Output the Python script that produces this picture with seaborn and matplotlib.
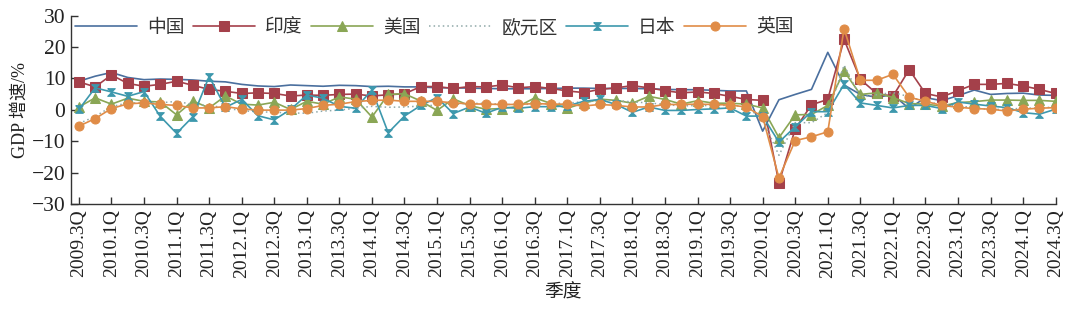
import numpy as np
import pandas as pd
import matplotlib
matplotlib.use("Agg")
import matplotlib.pyplot as plt
import seaborn as sns

# Quarterly GDP growth (%), 2009.3Q - 2024.3Q
quarters = [f"{y}.{q}Q" for y in range(2009, 2025) for q in range(1, 5)][2:63]

china = [9.1, 10.7, 11.9, 10.3, 9.6, 9.8, 9.7, 9.5, 9.1, 8.9,
         8.1, 7.6, 7.4, 7.9, 7.7, 7.5, 7.8, 7.7, 7.4, 7.5,
         7.3, 7.3, 7.0, 7.0, 6.9, 6.8, 6.7, 6.7, 6.7, 6.8,
         6.9, 6.9, 6.8, 6.8, 6.8, 6.7, 6.5, 6.4, 6.4, 6.2,
         6.0, 6.0, -6.8, 3.2, 4.9, 6.5, 18.3, 7.9, 4.9, 4.0,
         4.8, 0.4, 3.9, 2.9, 4.5, 6.3, 4.9, 5.2, 5.3, 4.7, 4.6]

india = [8.9, 7.3, 11.1, 8.4, 7.5, 8.1, 9.1, 7.8, 6.5, 5.9,
         5.2, 5.4, 5.2, 4.4, 4.7, 4.6, 4.9, 5.0, 4.4, 4.8,
         5.1, 7.4, 7.4, 6.8, 7.4, 7.3, 7.9, 7.0, 7.4, 6.8,
         6.0, 5.5, 6.5, 7.0, 7.7, 7.0, 6.1, 5.4, 5.7, 5.2,
         4.3, 3.3, 3.0, -23.3, -6.1, 1.6, 3.3, 22.4, 9.7, 5.2,
         4.3, 12.8, 5.2, 4.1, 6.1, 8.1, 8.1, 8.4, 7.6, 6.5, 5.2]

usa = [0.9, 3.8, 1.8, 3.7, 2.7, 2.5, -1.6, 2.8, 0.6, 4.4,
       1.8, 1.5, 2.4, 0.1, 2.7, 1.8, 4.1, 3.4, -2.3, 4.9,
       5.1, 2.8, -0.2, 3.5, 1.3, 0.2, 0.4, 1.1, 3.8, 2.0,
       0.5, 2.1, 3.4, 3.0, 2.1, 4.3, 3.3, 1.8, 2.9, 2.1,
       2.1, 1.8, 0.6, -8.9, -1.6, -1.5, 1.4, 12.3, 4.9, 5.4,
       3.9, 2.0, 1.8, 1.2, 2.3, 2.6, 3.1, 3.1, 3.0, 3.0, 2.7]

euro = [-4.4, -2.1, 1.0, 2.2, 2.2, 2.2, 2.7, 1.7, 1.4, 0.6,
        -0.3, -0.6, -0.8, -1.0, -1.1, -0.4, -0.1, 0.5, 1.1, 0.8,
        0.9, 1.2, 1.5, 1.9, 2.0, 2.1, 1.7, 1.7, 1.8, 2.0,
        2.1, 2.6, 2.9, 3.0, 2.5, 2.2, 1.7, 1.2, 1.4, 1.3,
        1.5, 1.0, -3.1, -14.5, -4.1, -4.1, -0.9, 14.2, 4.0, 4.8,
        5.5, 4.2, 2.5, 1.8, 1.3, 0.6, 0.1, 0.2, 0.5, 0.6, 0.9]

japan = [0.1, 7.0, 5.7, 4.3, 5.8, -2.1, -7.5, -2.2, 10.6, 0.8,
         3.3, -1.9, -3.2, 0.1, 4.7, 3.7, 1.1, 0.5, 6.3, -7.3,
         -2.0, 1.4, 3.9, -1.2, 0.9, -1.1, 0.8, 0.5, 1.0, 1.0,
         1.2, 2.7, 3.3, 1.7, -0.8, 0.9, -0.2, -0.2, 0.1, 0.3,
         0.6, -2.0, -2.0, -10.3, -5.4, -0.6, -0.6, 8.1, 2.2, 1.4,
         0.6, 1.4, 1.4, 0.4, 2.5, 1.8, 1.2, 0.7, -0.9, -1.4, 0.2]

uk = [-5.2, -2.8, 0.4, 1.9, 2.2, 1.7, 1.4, 0.6, 0.6, 1.0,
      0.3, -0.1, -0.1, -0.1, 0.4, 1.4, 1.8, 2.6, 3.0, 3.1,
      2.7, 2.7, 2.7, 2.2, 1.9, 1.8, 1.7, 1.7, 2.0, 1.8,
      1.8, 1.2, 1.7, 1.4, 0.9, 0.9, 1.7, 1.7, 1.8, 1.7,
      1.5, 0.9, -2.2, -21.7, -9.8, -8.6, -7.0, 25.8, 9.4, 9.4,
      11.3, 4.0, 2.7, 1.4, 0.8, 0.4, 0.2, -0.4, 0.2, 0.5, 0.7]

names = ["中国", "印度", "美国", "欧元区", "日本", "英国"]
series = [china, india, usa, euro, japan, uk]

# hourglass-shaped marker for Japan
hourglass = [(-1, 1), (1, 1), (-1, -1), (1, -1), (-1, 1)]

styles = {
    "中国":  dict(color="#4a6f9e", marker=None, linestyle="-", lw=1.2),
    "印度":  dict(color="#a4404a", marker="s", linestyle="-", lw=1.2, ms=6.5),
    "美国":  dict(color="#8aa655", marker="^", linestyle="-", lw=1.2, ms=6.5),
    "欧元区": dict(color="#8fa8a8", marker=None, linestyle=(0, (1, 2)), lw=1.1),
    "日本":  dict(color="#3d98ad", marker=hourglass, linestyle="-", lw=1.2, ms=5.5),
    "英国":  dict(color="#e08c47", marker="o", linestyle="-", lw=1.2, ms=6.5),
}

sns.set_theme(style="white")
plt.rcParams["font.family"] = ["Liberation Serif", "Noto Sans CJK SC", "DejaVu Sans"]
plt.rcParams["axes.unicode_minus"] = True

fig = plt.figure(figsize=(10.8, 3.22), dpi=100)
ax = fig.add_axes([0.0655, 0.3665, 0.912, 0.585])

x = np.arange(len(quarters))
for name, vals in zip(names, series):
    st = styles[name]
    kw = dict(color=st["color"], linewidth=st["lw"], linestyle=st["linestyle"])
    if st["marker"] is not None:
        kw.update(marker=st["marker"], markersize=st["ms"],
                  markeredgecolor=st["color"], markerfacecolor=st["color"])
    sns.lineplot(x=x, y=vals, ax=ax, label=name, **kw)

ax.set_xlim(-0.5, len(quarters) - 1)
ax.set_ylim(-30, 30)
ax.set_yticks([-30, -20, -10, 0, 10, 20, 30])
ax.set_xticks(x[::2])
ax.set_xticklabels(quarters[::2], rotation=90, fontsize=14)
ax.tick_params(axis="y", labelsize=15.5)
ax.tick_params(axis="both", direction="in", length=5, width=1, color="#333333",
               labelcolor="#222222", bottom=True, left=True, pad=4)

for s in ["top", "right"]:
    ax.spines[s].set_visible(False)
for s in ["left", "bottom"]:
    ax.spines[s].set_color("#333333")
    ax.spines[s].set_linewidth(1.0)

ax.set_ylabel("GDP 增速/%", fontsize=13, color="#222222", labelpad=2)
ax.set_xlabel("季度", fontsize=13.5, color="#222222", labelpad=5)

leg = ax.legend(loc="center left", bbox_to_anchor=(0.004, 0.935), ncol=6,
                frameon=False, fontsize=13.5, handlelength=3.3,
                handletextpad=0.55, columnspacing=0.45, borderpad=0,
                borderaxespad=0)
for t in leg.get_texts():
    t.set_color("#333333")

fig.savefig("out.png", dpi=100, facecolor="white")
